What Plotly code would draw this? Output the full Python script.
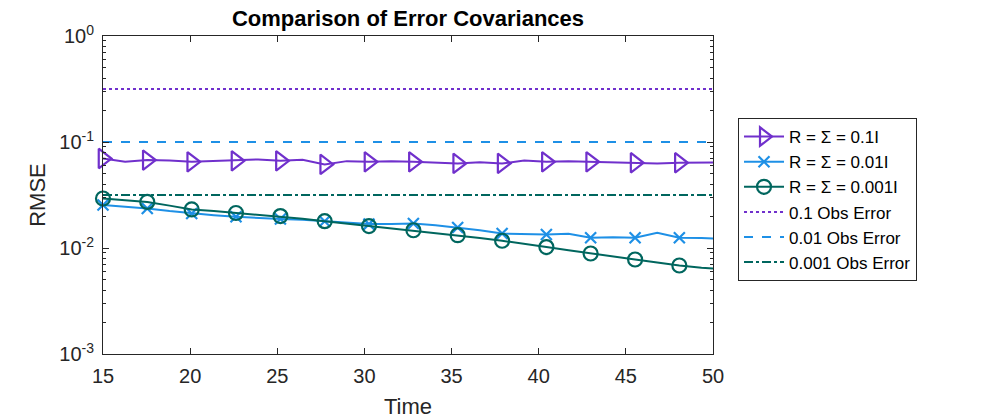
import plotly.graph_objects as go

# ---- data ----
time_line = [15, 16.27, 17.54, 18.82, 20.09, 21.36, 22.63, 23.9, 25.18, 26.45,
             27.72, 28.99, 30.26, 31.54, 32.81, 34.08, 35.35, 36.62, 37.9, 39.17,
             40.44, 41.71, 42.98, 44.26, 45.53, 46.8, 48.07, 49.34, 50]

rmse_01 = [0.0698, 0.0650, 0.0675, 0.0668, 0.0650, 0.0660, 0.0664, 0.0685, 0.0664, 0.0680,
           0.0615, 0.0660, 0.0650, 0.0660, 0.0650, 0.0638, 0.0628, 0.0645, 0.0628, 0.0668,
           0.0650, 0.0660, 0.0650, 0.0645, 0.0637, 0.0628, 0.0637, 0.0645, 0.0642]

rmse_001 = [0.0254, 0.0245, 0.0236, 0.0223, 0.0212, 0.0204, 0.0197, 0.0191, 0.0188, 0.0185,
            0.0179, 0.0173, 0.0168, 0.0168, 0.0170, 0.0164, 0.0156, 0.0147, 0.0137, 0.0135,
            0.0134, 0.0136, 0.0125, 0.0126, 0.0125, 0.0139, 0.0125, 0.0124, 0.0123]

rmse_0001 = [0.0293, 0.0283, 0.0272, 0.0251, 0.0231, 0.0223, 0.0214, 0.0207, 0.0200, 0.0189,
             0.0179, 0.0170, 0.0161, 0.0154, 0.0147, 0.0139, 0.0132, 0.0124, 0.0117, 0.0110,
             0.0102, 0.00953, 0.00887, 0.00831, 0.00779, 0.00730, 0.00684, 0.00652, 0.00640]

marker_every = 2  # markers on every other sample (indices 0..26)

obs_error = [0.3162, 0.1, 0.03162]
obs_names = ["0.1 Obs Error", "0.01 Obs Error", "0.001 Obs Error"]
series_names = ["R = \u03a3 = 0.1I", "R = \u03a3 = 0.01I", "R = \u03a3 = 0.001I"]

x_ticks = [15, 20, 25, 30, 35, 40, 45, 50]
y_ticks = [1e-3, 1e-2, 1e-1, 1e0]
y_ticktext = ["10<sup>-3</sup>", "10<sup>-2</sup>", "10<sup>-1</sup>", "10<sup>0</sup>"]

# ---- styles ----
purple = "#7030CC"
blue = "#1E90E6"
teal = "#00665E"
series = [
    (rmse_01, purple, "triangle-right-open", 17),
    (rmse_001, blue, "x-thin-open", 11),
    (rmse_0001, teal, "circle-open", 14),
]
obs_styles = [(purple, "dot"), (blue, "dash"), (teal, "dashdot")]

fig = go.Figure()

for (vals, col, sym, size), name in zip(series, series_names):
    mx = time_line[:-2:marker_every]
    my = vals[:-2:marker_every]
    fig.add_trace(go.Scatter(x=time_line, y=vals, mode="lines",
                             line=dict(color=col, width=2), showlegend=False,
                             hoverinfo="skip"))
    fig.add_trace(go.Scatter(x=mx, y=my, mode="markers",
                             marker=dict(symbol=sym, size=size, color=col,
                                         line=dict(color=col, width=2.2)),
                             showlegend=False, cliponaxis=False))
    fig.add_trace(go.Scatter(x=[None], y=[None], mode="lines+markers", name=name,
                             line=dict(color=col, width=2),
                             marker=dict(symbol=sym, size=size, color=col,
                                         line=dict(color=col, width=2.2))))

for val, (col, dash), name in zip(obs_error, obs_styles, obs_names):
    fig.add_trace(go.Scatter(x=[x_ticks[0], x_ticks[-1]], y=[val, val], mode="lines",
                             name=name, line=dict(color=col, width=2, dash=dash)))

font_family = "Liberation Sans, Arial, sans-serif"
axis_common = dict(showline=True, linecolor="#262626", linewidth=1, mirror="ticks",
                   ticks="inside", tickcolor="#262626", showgrid=False, zeroline=False,
                   automargin=False, ticklabelstandoff=4,
                   tickfont=dict(size=20, color="#262626", family=font_family))

fig.update_layout(
    width=1000, height=420,
    margin=dict(l=95, r=295, t=28, b=74, autoexpand=False),
    paper_bgcolor="white", plot_bgcolor="white",
    font=dict(family=font_family, color="#262626"),
    title=dict(text="<b>Comparison of Error Covariances</b>", x=(95 + 705) / 2 / 1000,
               xanchor="center", yref="container", y=1 - 3 / 420, yanchor="top",
               pad=dict(t=0, b=0),
               font=dict(size=22, color="black", family=font_family)),
    xaxis=dict(range=[15, 50], tickvals=x_ticks, ticklen=6,
               title=dict(text="Time", font=dict(size=22), standoff=12), **axis_common),
    yaxis=dict(type="log", range=[-3, 0], tickvals=y_ticks, ticktext=y_ticktext, ticklen=6,
               minor=dict(ticks="inside", ticklen=3, tickcolor="#262626",
                          tickvals=[k * 10 ** e for e in (-3, -2, -1) for k in range(2, 10)]),
               title=dict(text="RMSE", font=dict(size=22), standoff=7), **axis_common),
    legend=dict(x=1.041, y=0.742, xanchor="left", yanchor="top",
                bordercolor="#262626", borderwidth=1, bgcolor="white",
                font=dict(size=17, color="black", family=font_family),
                tracegroupgap=0, itemwidth=40),
)

fig.write_html("out.html")
